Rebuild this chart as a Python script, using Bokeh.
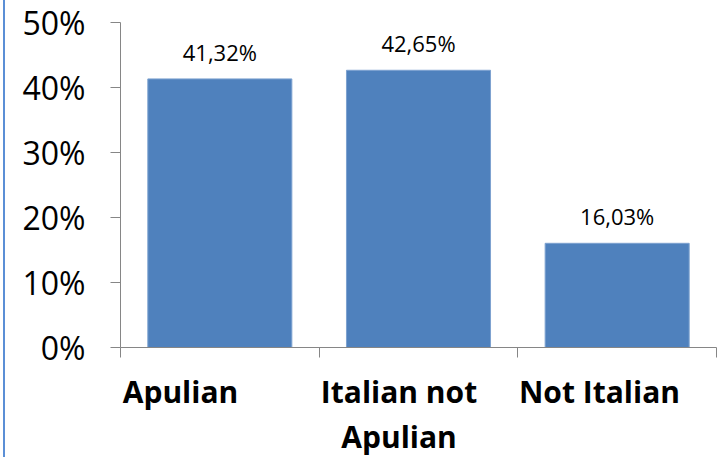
from bokeh.plotting import figure
from bokeh.layouts import row
from bokeh.models import Range1d, FixedTicker, ColumnDataSource, Spacer
from bokeh.core.properties import value
from bokeh.embed import file_html
from bokeh.resources import INLINE

# Share of respondents by origin
categories = ["Apulian", "Italian not\nApulian", "Not Italian"]
shares = [41.32, 42.65, 16.03]
y_ticks = [0, 10, 20, 30, 40, 50]

# label anchors within each category slot (labels sit toward the slot's left edge)
label_pos = [0.302, 1.402, 2.411]

positions = [i + 0.5 for i in range(len(categories))]
labels = [f"{v:.2f}%".replace(".", ",") for v in shares]
source = ColumnDataSource(dict(x=positions, top=shares, label=labels))

p = figure(frame_width=596, frame_height=325, output_backend="svg",
           toolbar_location=None,
           x_range=Range1d(0, len(categories)), y_range=Range1d(0, 50),
           min_border_left=115, min_border_right=8, min_border_top=22,
           min_border_bottom=110)
p.outline_line_color = None
p.background_fill_color = "white"
p.border_fill_color = "white"
p.grid.visible = False

p.vbar(x="x", top="top", width=0.725, source=source,
       fill_color="#4f81bd", line_color="#7da2d0", line_width=1)

p.text(x="x", y="top", text="label", source=source,
       text_font=value("Open Sans"), text_font_size="22px",
       text_color="#000000", text_align="center",
       text_baseline="alphabetic", y_offset=-27)

# y axis: percentage scale
ya = p.yaxis[0]
ya.ticker = FixedTicker(ticks=y_ticks, minor_ticks=[])
ya.major_label_overrides = {t: f"{t}%" for t in y_ticks}
ya.major_label_text_font = "Open Sans"
ya.major_label_text_font_size = "32px"
ya.major_label_text_color = "#000000"
ya.major_label_standoff = 25
ya.major_tick_out = 10
ya.major_tick_in = 0
ya.axis_line_color = "#868686"
ya.major_tick_line_color = "#868686"

# x axis: tick marks on category boundaries (minor), category names as major labels
xa = p.xaxis[0]
bounds = list(range(len(categories) + 1))
xa.ticker = FixedTicker(ticks=label_pos, minor_ticks=bounds)
xa.major_label_overrides = {pos: c for pos, c in zip(label_pos, categories)}
xa.major_label_text_font = "Open Sans"
xa.major_label_text_font_style = "bold"
xa.major_label_text_font_size = "30px"
xa.major_label_text_color = "#000000"
xa.major_label_text_line_height = 1.1
xa.major_label_standoff = 13
xa.major_tick_out = 10
xa.major_tick_in = 0
xa.major_tick_line_color = None
xa.minor_tick_out = 10
xa.minor_tick_in = 0
xa.minor_tick_line_color = "#868686"
xa.axis_line_color = "#868686"

# thin blue rule along the left edge of the chart area
pad = Spacer(width=3, height=457)
rule = Spacer(width=2, height=457, styles={"background-color": "#5b8fd6"})

layout = row(pad, rule, p)
open("out.html", "w").write(file_html(layout, INLINE))
